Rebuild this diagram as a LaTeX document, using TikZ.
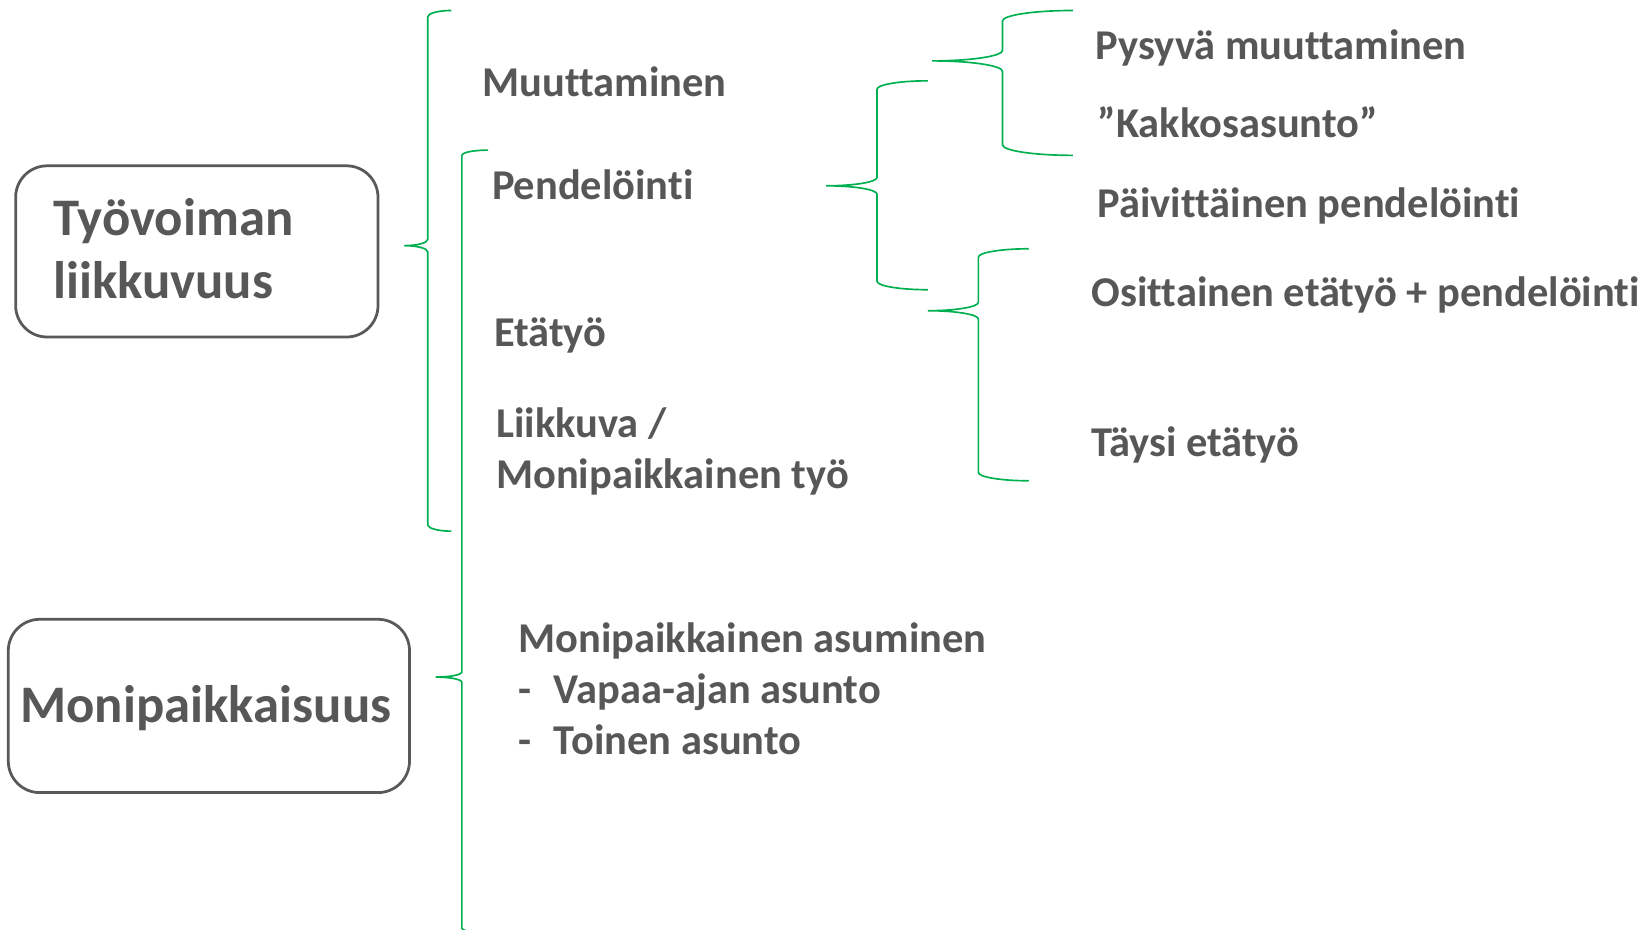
\documentclass[tikz,border=0pt]{standalone}
\usepackage{fontspec}
\setmainfont{Carlito}[Ligatures={NoCommon}]
\definecolor{txtgray}{HTML}{575757}
\definecolor{boxgray}{HTML}{595959}
\definecolor{brgreen}{HTML}{00B050}
\newcommand\mybrace[6]{%
  \pgfmathsetmacro\bxv{(#1+#2)/2}%
  \pgfmathsetmacro\brx{(#2-#1)/2*0.5523}%
  \pgfmathsetmacro\bry{#6*0.5523}%
  \draw[brace] (#2,#3) .. controls ({#2-\brx},#3) and (\bxv,{#3+#6-\bry}) .. (\bxv,{#3+#6})
    -- (\bxv,{#4-#6}) .. controls (\bxv,{#4-#6+\bry}) and ({#1+\brx},#4) .. (#1,#4)
    .. controls ({#1+\brx},#4) and (\bxv,{#4+#6-\bry}) .. (\bxv,{#4+#6})
    -- (\bxv,{#5-#6}) .. controls (\bxv,{#5-#6+\bry}) and ({#2-\brx},#5) .. (#2,#5);}
\tikzset{
  brace/.style={draw=brgreen, line width=0.45pt},
  rbox/.style={draw=boxgray, line width=0.75pt, rounded corners=0.3cm, inner sep=0pt},
  bigtxt/.style={text=txtgray, font=\fontsize{14.3}{17.1}\selectfont\bfseries, inner sep=0pt},
  smtxt/.style={text=txtgray, font=\fontsize{11.5}{13.9}\selectfont\bfseries, inner sep=0pt, anchor=base west},
}
\begin{document}
\begin{tikzpicture}[x=0.01cm, y=-0.01cm]
\useasboundingbox (0,0) rectangle (1568,885);
\clip (0,0) rectangle (1568,885);
% boxes
\node[rbox, minimum width=3.45cm, minimum height=1.63cm] (b1) at (187.5,239.5) {};
\node[bigtxt, anchor=base west] (b1t) at (50,224) {Työvoiman};
\node[bigtxt, anchor=base west] (b1u) at (50,284) {liikkuvuus};
\node[rbox, minimum width=3.82cm, minimum height=1.65cm] (b2) at (199,672.5) {};
\node[bigtxt, anchor=base] (b2t) at (196,688) {Monipaikkaisuus};
% braces
\mybrace{385}{430}{10}{234}{506}{6}
\mybrace{415}{465}{143}{645}{889}{5}
\mybrace{787}{884}{77}{177}{276}{8}
\mybrace{888}{1022}{10}{58}{148}{10}
\mybrace{884}{980}{237}{296}{458}{8}
% texts
\node[smtxt] (t1) at (459,92) {Muuttaminen};
\node[smtxt] (t2) at (468,190) {Pendelöinti};
\node[smtxt] (t3) at (470,330) {Etätyö};
\node[smtxt] (t4) at (472,417) {Liikkuva /};
\node[smtxt] (t4b) at (472,465) {Monipaikkainen työ};
\node[smtxt] (t5) at (1043,57) {Pysyvä muuttaminen};
\node[smtxt] (t6) at (1045,131) {”Kakkosasunto”};
\node[smtxt] (t7) at (1045,207) {Päivittäinen pendelöinti};
\node[smtxt] (t8) at (1039,292) {Osittainen etätyö + pendelöinti};
\node[smtxt] (t9) at (1039,435) {Täysi etätyö};
\node[smtxt] (t10) at (493,622) {Monipaikkainen asuminen};
\node[smtxt] (t11) at (493,670) {\makebox[0.34cm][l]{-}Vapaa-ajan asunto};
\node[smtxt] (t12) at (493,719) {\makebox[0.34cm][l]{-}Toinen asunto};
\end{tikzpicture}
\end{document}
